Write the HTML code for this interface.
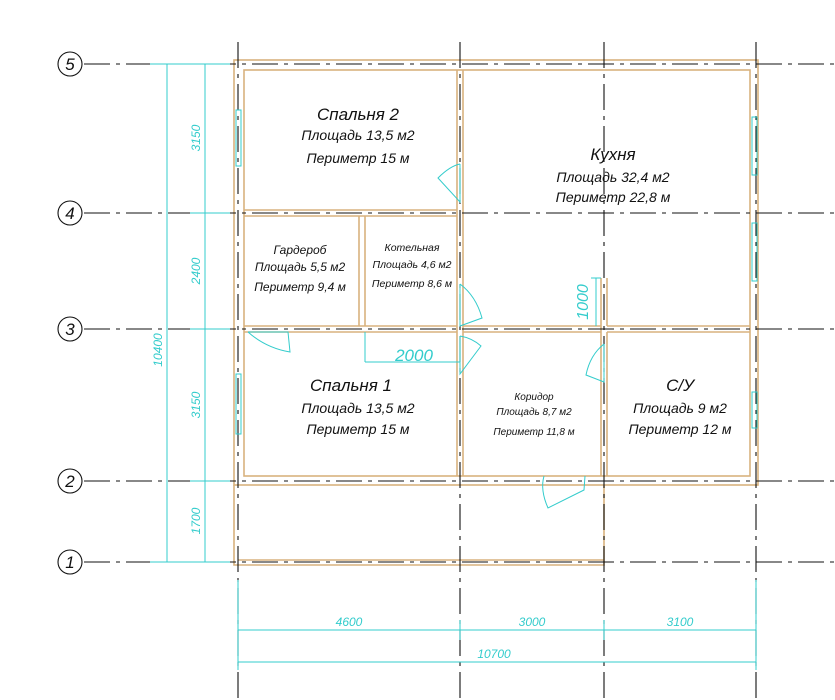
<!DOCTYPE html>
<html><head><meta charset="utf-8"><style>
html,body{margin:0;padding:0;background:#fff;width:835px;height:700px;overflow:hidden}
svg{display:block}
.t{font-family:"Liberation Sans","DejaVu Sans",sans-serif;font-style:italic;fill:#111;text-anchor:middle}
.c{font-family:"Liberation Sans",sans-serif;font-style:italic;fill:#3cc;text-anchor:middle}
</style></head><body>
<svg width="835" height="700" viewBox="0 0 835 700">
<!-- walls -->
<g fill="none" stroke="#d8b27e" stroke-width="1.6">
<rect x="234" y="60" width="524" height="425"/>
<rect x="244" y="70" width="506" height="406"/>
<path d="M234 485 V565 H604 V485"/>
<path d="M244 210 H457 M244 216 H457"/>
<path d="M244 326 H457 M463 326 H601 M607 326 H750 M244 332 H457 M463 332 H601 M607 332 H750"/>
<path d="M457 70 V476 M463 70 V476"/>
<path d="M601 278 V476 M607 278 V326 M607 332 V476"/>
<path d="M359 216 V326 M365 216 V326"/>
<path d="M238 560 H604"/>
</g>
<!-- grid lines -->
<g stroke="#111" stroke-width="1.1" stroke-dasharray="26,6,4,6" fill="none">
<path d="M84 64 H835 M84 213 H835 M84 329 H835 M84 481 H835 M84 562 H835"/>
<path d="M238 42 V700 M460 42 V700 M604 42 V700 M756 42 V700"/>
</g>
<g fill="#fff" stroke="#111" stroke-width="1.1">
<circle cx="70" cy="64" r="12"/><circle cx="70" cy="213" r="12"/><circle cx="70" cy="329" r="12"/><circle cx="70" cy="481" r="12"/><circle cx="70" cy="562" r="12"/>
</g>
<g class="t" font-size="17" style="font-style:italic">
<text x="70" y="70" class="t">5</text><text x="70" y="219" class="t">4</text><text x="70" y="335" class="t">3</text><text x="70" y="487" class="t">2</text><text x="70" y="568" class="t">1</text>
</g>
<!-- dimensions -->
<g stroke="#3cc" stroke-width="1" fill="none">
<path d="M167 64 V562 M205 64 V562 M150 64 H230 M190 213 H230 M190 329 H230 M190 481 H230 M150 562 H230"/>
<path d="M238 630 H756 M238 662 H756 M238 580 V670 M460 620 V640 M604 620 V640 M756 580 V670"/>
<path d="M596 278 V326 M591 278 H601"/>
<path d="M365 332 V362 M365 362 H460"/>
<!-- windows -->
<rect x="236" y="110" width="5" height="56"/><rect x="236" y="374" width="5" height="60"/>
<rect x="752" y="117" width="5" height="58"/><rect x="752" y="223" width="5" height="58"/><rect x="752" y="392" width="5" height="36"/>
<!-- doors -->
<path d="M460 164 V202 L438 178 Q450 166 460 164"/>
<path d="M460 284 V326 L482 318 Q476 296 460 284"/>
<path d="M460 336 V374 L481 346 Q472 338 460 336"/>
<path d="M604 344 V382 L586 375 Q590 355 604 344"/>
<path d="M248 332 H288 L290 352 Q266 348 248 332"/>
<path d="M585 476 L584 490 L548 508 Q540 490 544 476"/>
</g>
<g class="c" font-size="12">
<text transform="translate(200 138) rotate(-90)">3150</text>
<text transform="translate(200 271) rotate(-90)">2400</text>
<text transform="translate(200 405) rotate(-90)">3150</text>
<text transform="translate(200 521) rotate(-90)">1700</text>
<text transform="translate(162 350) rotate(-90)">10400</text>
<text x="349" y="626">4600</text><text x="532" y="626">3000</text><text x="680" y="626">3100</text>
<text x="494" y="658">10700</text>
<text x="414" y="361" font-size="17">2000</text>
<text transform="translate(588 302) rotate(-90)" font-size="16">1000</text>
</g>
<!-- labels -->
<g class="t">
<text x="358" y="120" font-size="17">Спальня 2</text>
<text x="358" y="140" font-size="14">Площадь 13,5 м2</text>
<text x="358" y="163" font-size="14">Периметр 15 м</text>
<text x="613" y="160" font-size="17">Кухня</text>
<text x="613" y="182" font-size="14">Площадь 32,4 м2</text>
<text x="613" y="202" font-size="14">Периметр 22,8 м</text>
<text x="300" y="254" font-size="12">Гардероб</text>
<text x="300" y="271" font-size="12">Площадь 5,5 м2</text>
<text x="300" y="291" font-size="12">Периметр 9,4 м</text>
<text x="412" y="251" font-size="10.5">Котельная</text>
<text x="412" y="268" font-size="10.5">Площадь 4,6 м2</text>
<text x="412" y="287" font-size="10.5">Периметр 8,6 м</text>
<text x="351" y="391" font-size="17">Спальня 1</text>
<text x="358" y="413" font-size="14">Площадь 13,5 м2</text>
<text x="358" y="434" font-size="14">Периметр 15 м</text>
<text x="534" y="400" font-size="10">Коридор</text>
<text x="534" y="415" font-size="10">Площадь 8,7 м2</text>
<text x="534" y="435" font-size="10">Периметр 11,8 м</text>
<text x="680" y="391" font-size="17">С/У</text>
<text x="680" y="413" font-size="14">Площадь 9 м2</text>
<text x="680" y="434" font-size="14">Периметр 12 м</text>
</g>
</svg>
</body></html>
